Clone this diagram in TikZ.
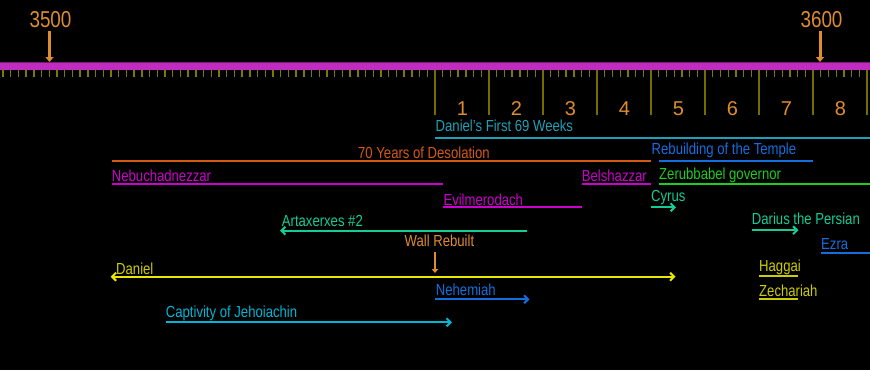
\documentclass[tikz,border=0pt]{standalone}
\usepackage{fontspec}
\setmainfont[FakeStretch=0.82]{Liberation Sans}
\newfontfamily\numfont{Liberation Sans}
\usetikzlibrary{arrows.meta}
\definecolor{barmag}{RGB}{192,44,192}
\definecolor{tickol}{RGB}{128,118,0}
\definecolor{majol}{RGB}{118,108,0}
\definecolor{numor}{RGB}{222,140,48}
\definecolor{desol}{RGB}{212,90,20}
\definecolor{weekteal}{RGB}{30,160,182}
\definecolor{tblue}{RGB}{20,110,222}
\definecolor{tgreen}{RGB}{30,204,30}
\definecolor{tmag}{RGB}{204,0,204}
\definecolor{tcyan}{RGB}{20,204,150}
\definecolor{tyel}{RGB}{232,232,0}
\definecolor{tolive}{RGB}{204,204,0}
\definecolor{tcapt}{RGB}{0,182,212}
\begin{document}
\begin{tikzpicture}[x=1pt,y=-1pt,
  lbl/.style={anchor=base west, inner sep=0pt, font=\fontsize{16}{16}\selectfont},
  num/.style={anchor=base, inner sep=0pt, text=numor, font=\numfont\fontsize{20}{20}\selectfont},
  yearlbl/.style={anchor=base, inner sep=0pt, text=numor, font=\fontsize{23}{23}\selectfont},
  span/.style={line width=2pt},
  arr/.style={line width=2pt, -{Straight Barb[length=4pt,width=8pt]}},
  darr/.style={line width=2pt, {Straight Barb[length=4pt,width=8pt]}-{Straight Barb[length=4pt,width=8pt]}},
  downarr/.style={draw=numor, line width=3pt, -{Triangle[length=5pt,width=8pt]}},
  smalltick/.style={draw=tickol, line width=1.3pt},
  majortick/.style={draw=majol, line width=1.5pt}]
\fill[black] (0,0) rectangle (870,370);
\useasboundingbox (0,0) rectangle (870,370);
% ruler
\fill[barmag] (0,62.5) rectangle (870,69.5);
\draw[draw=barmag!60!black, line width=0.8pt] (0,62.6) -- (870,62.6);
\foreach \n in {-56,...,56} {\draw[smalltick] ({435+\n*54/7},69.5) -- ({435+\n*54/7},77);}
\foreach \k in {0,...,8} {\draw[majortick] ({435+54*\k},69.5) -- ({435+54*\k},115);}
\foreach \k in {1,...,8} {\node[num] (n\k) at ({435+54*\k-26.5},115) {\k};}
% year markers
\node[yearlbl] (y3500) at (50.5,27.3) {3500};
\node[yearlbl] (y3600) at (821.5,27.3) {3600};
\coordinate (t3500) at (49.5,62);
\coordinate (t3600) at (820,62);
\draw[downarr] (49.5,31) -- (t3500);
\draw[downarr] (820,31) -- (t3600);
% Daniel's First 69 Weeks
\node[lbl, text=weekteal] (weeks) at (435.5,131) {Daniel's First 69 Weeks};
\draw[span, weekteal] (435,137.7) -- (870,137.7);
% 70 Years of Desolation
\node[lbl, text=desol] (desolation) at (358,158.3) {70 Years of Desolation};
\draw[span, desol] (111.7,160.7) -- (650.7,160.7);
% Rebuilding of the Temple
\node[lbl, text=tblue] (temple) at (651.5,154.5) {Rebuilding of the Temple};
\draw[span, tblue] (659,160.7) -- (812.7,160.7);
% Nebuchadnezzar
\node[lbl, text=tmag] (nebu) at (111.7,181.5) {Nebuchadnezzar};
\draw[span, tmag] (111.7,183.5) -- (442.7,183.5);
% Belshazzar
\node[lbl, text=tmag] (belsh) at (581.7,181) {Belshazzar};
\draw[span, tmag] (581.7,183.5) -- (650.7,183.5);
% Zerubbabel
\node[lbl, text=tgreen] (zerub) at (659,179.3) {Zerubbabel governor};
\draw[span, tgreen] (659,183.5) -- (870,183.5);
% Evilmerodach
\node[lbl, text=tmag] (evil) at (443.3,205) {Evilmerodach};
\draw[span, tmag] (443.3,207.3) -- (581.7,207.3);
% Cyrus
\node[lbl, text=tcyan] (cyrus) at (651,201.5) {Cyrus};
\draw[arr, tcyan] (651,207.3) -- (676,207.3);
% Darius
\node[lbl, text=tcyan] (darius) at (751.7,224.2) {Darius the Persian};
\draw[arr, tcyan] (751.7,230.2) -- (798.5,230.2);
% Artaxerxes
\node[lbl, text=tcyan] (artax) at (281.7,226) {Artaxerxes \#2};
\draw[arr, tcyan] (527.3,230.7) -- (280,230.7);
% Wall Rebuilt
\node[lbl, text=numor] (wall) at (404.5,246.7) {Wall Rebuilt};
\coordinate (wallend) at (435,273);
\draw[draw=numor, line width=2.4pt, -{Triangle[length=4pt,width=6.5pt]}] (435,251.7) -- (wallend);
% Ezra
\node[lbl, text=tblue] (ezra) at (821,249.3) {Ezra};
\draw[span, tblue] (821,253.3) -- (870,253.3);
% Daniel
\node[lbl, text=tolive] (daniel) at (116,274) {Daniel};
\draw[darr, tyel] (110.7,276.7) -- (675.5,276.7);
% Haggai
\node[lbl, text=tolive] (haggai) at (759,271.7) {Haggai};
\draw[span, tolive] (759,276) -- (797.7,276);
% Nehemiah
\node[lbl, text=tblue] (nehem) at (435.7,295) {Nehemiah};
\draw[arr, tblue] (435,299.3) -- (529.5,299.3);
% Zechariah
\node[lbl, text=tolive] (zech) at (759,296.7) {Zechariah};
\draw[span, tolive] (759,299.3) -- (797.7,299.3);
% Captivity of Jehoiachin
\node[lbl, text=tcapt] (capt) at (165.7,317.3) {Captivity of Jehoiachin};
\draw[arr, tcapt] (165.7,322.3) -- (452,322.3);
\end{tikzpicture}
\end{document}
